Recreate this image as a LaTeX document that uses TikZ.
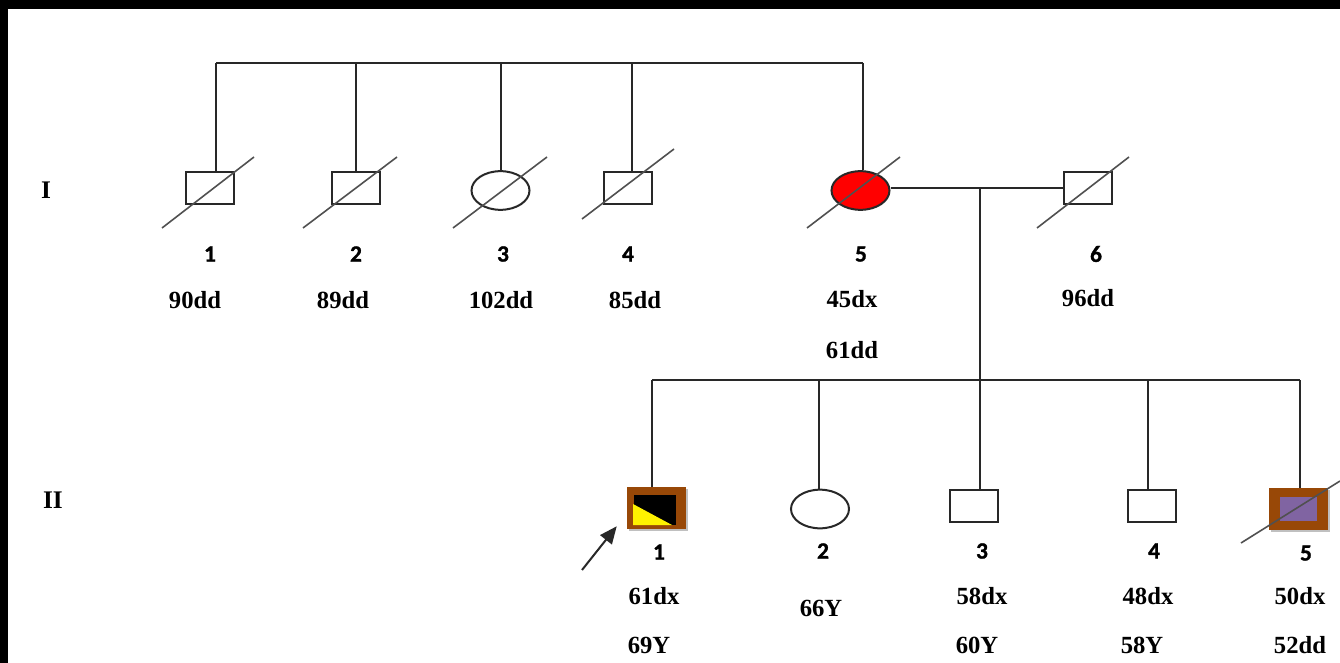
\documentclass[tikz,border=0pt]{standalone}
\usepackage{fontspec}
\setmainfont{Liberation Serif}
\newfontfamily\numfont{Carlito}[BoldFeatures={FakeBold=1.2}]
\usetikzlibrary{calc,arrows.meta,shapes.geometric,shadows}
\definecolor{brownbox}{RGB}{152,72,7}
\definecolor{purplebox}{RGB}{128,100,162}
\definecolor{linegray}{RGB}{40,40,40}
\definecolor{diaggray}{RGB}{80,80,80}
\begin{document}
\begin{tikzpicture}[x=0.75pt,y=-0.75pt,
  conn/.style={draw=linegray,line width=1.5pt},
  diag/.style={draw=diaggray,line width=1.2pt},
  male/.style={rectangle,draw=linegray,line width=1.5pt,fill=white,minimum width=36pt,minimum height=24pt,inner sep=0pt},
  female/.style={ellipse,draw=linegray,line width=1.5pt,fill=white,minimum width=43.5pt,minimum height=29pt,inner sep=0pt},
  affbox/.style={rectangle,fill=brownbox,minimum width=44.25pt,minimum height=31.5pt,inner sep=0pt,
    drop shadow={shadow xshift=1.8pt,shadow yshift=-1.8pt,fill=black!35,opacity=0.7}},
  numlab/.style={font=\numfont\bfseries\fontsize{17.5}{20}\selectfont,inner sep=0pt},
  agelab/.style={font=\bfseries\fontsize{18.5}{22}\selectfont,inner sep=0pt},
  genlab/.style={font=\bfseries\fontsize{19}{24}\selectfont,inner sep=0pt}
]
\useasboundingbox (0,0) rectangle (1340,663);
\fill[white] (0,0) rectangle (1340,663);
\fill[black] (0,0) rectangle (1340,9);
\fill[black] (0,0) rectangle (8,663);

% generation labels
\node[genlab] (gI) at (46,190) {I};
\node[genlab] (gII) at (53,500) {II};

% ---- Generation I
\node[male] (i1) at (210,188) {};
\node[male] (i2) at (356,188) {};
\node[female] (i3) at (500.5,190.5) {};
\node[male] (i4) at (628,188) {};
\node[female,fill=red] (i5) at (860.5,190.5) {};
\node[male] (i6) at (1088,188) {};

\coordinate (t1) at (216,63);
\coordinate (t2) at (356,63);
\coordinate (t3) at (501,63);
\coordinate (t4) at (632,63);
\coordinate (t5) at (863,63);
\draw[conn] (t1) -- (t5);
\draw[conn] (t1) -- (t1 |- i1.north);
\draw[conn] (t2) -- (t2 |- i2.north);
\draw[conn] (t3) -- (t3 |- i3.north);
\draw[conn] (t4) -- (t4 |- i4.north);
\draw[conn] (t5) -- (t5 |- i5.north);

\coordinate (m) at (980,188);
\draw[conn] (m -| i5.east) -- (m -| i6.west);

\draw[diag] ([shift={(-48,40)}]i1.center) -- ([shift={(44,-31)}]i1.center);
\draw[diag] ([shift={(-53,40)}]i2.center) -- ([shift={(41,-31)}]i2.center);
\draw[diag] ([shift={(-47.5,37.5)}]i3.center) -- ([shift={(46.5,-33.5)}]i3.center);
\draw[diag] ([shift={(-46,31)}]i4.center) -- ([shift={(46,-39)}]i4.center);
\draw[diag] ([shift={(-53.5,37.5)}]i5.center) -- ([shift={(39.5,-33.5)}]i5.center);
\draw[diag] ([shift={(-51,40)}]i6.center) -- ([shift={(41,-31)}]i6.center);

\node[numlab] (ni1) at (210,254) {1};
\node[numlab] (ni2) at (356,254) {2};
\node[numlab] (ni3) at (503,254) {3};
\node[numlab] (ni4) at (628,254) {4};
\node[numlab] (ni5) at (861,254) {5};
\node[numlab] (ni6) at (1096,254) {6};

\node[agelab] (ai1) at (195,300) {90dd};
\node[agelab] (ai2) at (343,300) {89dd};
\node[agelab] (ai3) at (501,300) {102dd};
\node[agelab] (ai4) at (635,300) {85dd};
\node[agelab] (ai5) at (852,299) {45dx};
\node[agelab] (bi5) at (852,350) {61dd};
\node[agelab] (ai6) at (1088,298) {96dd};

% ---- Generation II
\coordinate (s1) at (652,380);
\coordinate (s2) at (819,380);
\coordinate (s3) at (980,380);
\coordinate (s4) at (1148,380);
\coordinate (s5) at (1300,380);
\draw[conn] (m) -- (s3);
\draw[conn] (s1) -- (s5);

\node[affbox] (ii1) at (656.5,508) {};
\fill[black] (634,495) rectangle (676,525);
\fill[yellow] (633,504) -- (633,525) -- (672,525) -- cycle;
\node[female] (ii2) at (820,509) {};
\node[male] (ii3) at (974,506) {};
\node[male] (ii4) at (1152,506) {};
\node[affbox] (ii5) at (1298.5,509) {};
\fill[purplebox] (1280,497) rectangle (1317,521);

\draw[conn] (s1) -- (s1 |- ii1.north);
\draw[conn] (s2) -- (s2 |- ii2.north);
\draw[conn] (s3) -- (s3 |- ii3.north);
\draw[conn] (s4) -- (s4 |- ii4.north);
\draw[conn] (s5) -- (s5 |- ii5.north);

\draw[diag] ([shift={(-57.5,34)}]ii5.center) -- ([shift={(41.5,-28)}]ii5.center);

% proband arrow
\coordinate (pa) at (582,570);
\draw[draw=linegray,line width=1.5pt,-{Triangle[length=13pt,width=11pt]}] (pa) -- ([shift={(-10,-3)}]ii1.south west);

\node[numlab] (nii1) at (659,552) {1};
\node[numlab] (nii2) at (823,551) {2};
\node[numlab] (nii3) at (982,551) {3};
\node[numlab] (nii4) at (1154,551) {4};
\node[numlab] (nii5) at (1306,553) {5};

\node[agelab] (aii1) at (654,596) {61dx};
\node[agelab] (bii1) at (649,645) {69Y};
\node[agelab] (aii2) at (821,608) {66Y};
\node[agelab] (aii3) at (982,596) {58dx};
\node[agelab] (bii3) at (977,645) {60Y};
\node[agelab] (aii4) at (1148,596) {48dx};
\node[agelab] (bii4) at (1142,645) {58Y};
\node[agelab] (aii5) at (1300,596) {50dx};
\node[agelab] (bii5) at (1300,645) {52dd};
\end{tikzpicture}
\end{document}
